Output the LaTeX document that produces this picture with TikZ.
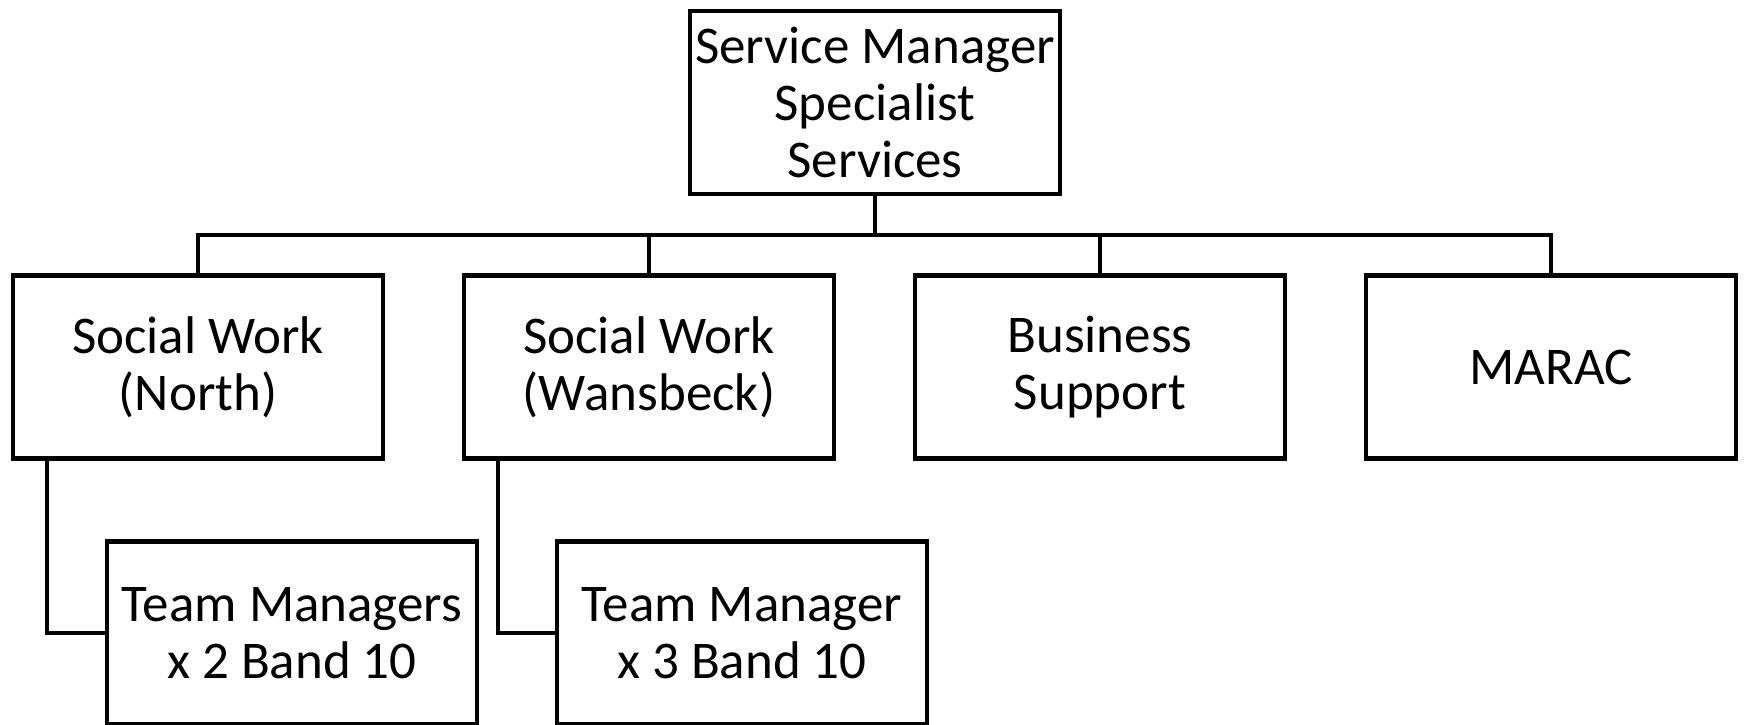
\documentclass[tikz,border=0pt]{standalone}
\usepackage{fontspec}
\setmainfont{Carlito}
\begin{document}
\begin{tikzpicture}[x=1pt,y=-1pt,
  box/.style={draw=black,line width=4.5pt,fill=white,minimum width=370pt,minimum height=183pt,
    inner sep=0pt,align=center,font=\fontsize{53}{57}\selectfont},
  link/.style={draw=black,line width=4.5pt,line join=miter}]
\useasboundingbox (0,0) rectangle (1745,724);
\begin{scope}
\clip (0,0) rectangle (1745,724);
\node[box] (top) at (875,102.5) {Service Manager\\Specialist\\Services};
\node[box] (n1) at (198,367) {Social Work\\(North)};
\node[box] (n2) at (649,367) {Social Work\\(Wansbeck)};
\node[box] (n3) at (1100,367) {Business\\Support};
\node[box] (n4) at (1551,367) {MARAC};
\node[box] (tA) at (292,633) {Team Managers\\x 2 Band 10};
\node[box] (tB) at (742,633) {Team Manager\\x 3 Band 10};
\coordinate (bus) at (0,235);
\draw[link] (top.south) -- (top.south |- bus);
\draw[link] (n1.north) -- (n1.north |- bus) -- (n4.north |- bus) -- (n4.north);
\draw[link] (n2.north) -- (n2.north |- bus);
\draw[link] (n3.north) -- (n3.north |- bus);
\draw[link] ([xshift=36pt]n1.south west) |- (tA.west);
\draw[link] ([xshift=36pt]n2.south west) |- (tB.west);
\end{scope}
\end{tikzpicture}
\end{document}
